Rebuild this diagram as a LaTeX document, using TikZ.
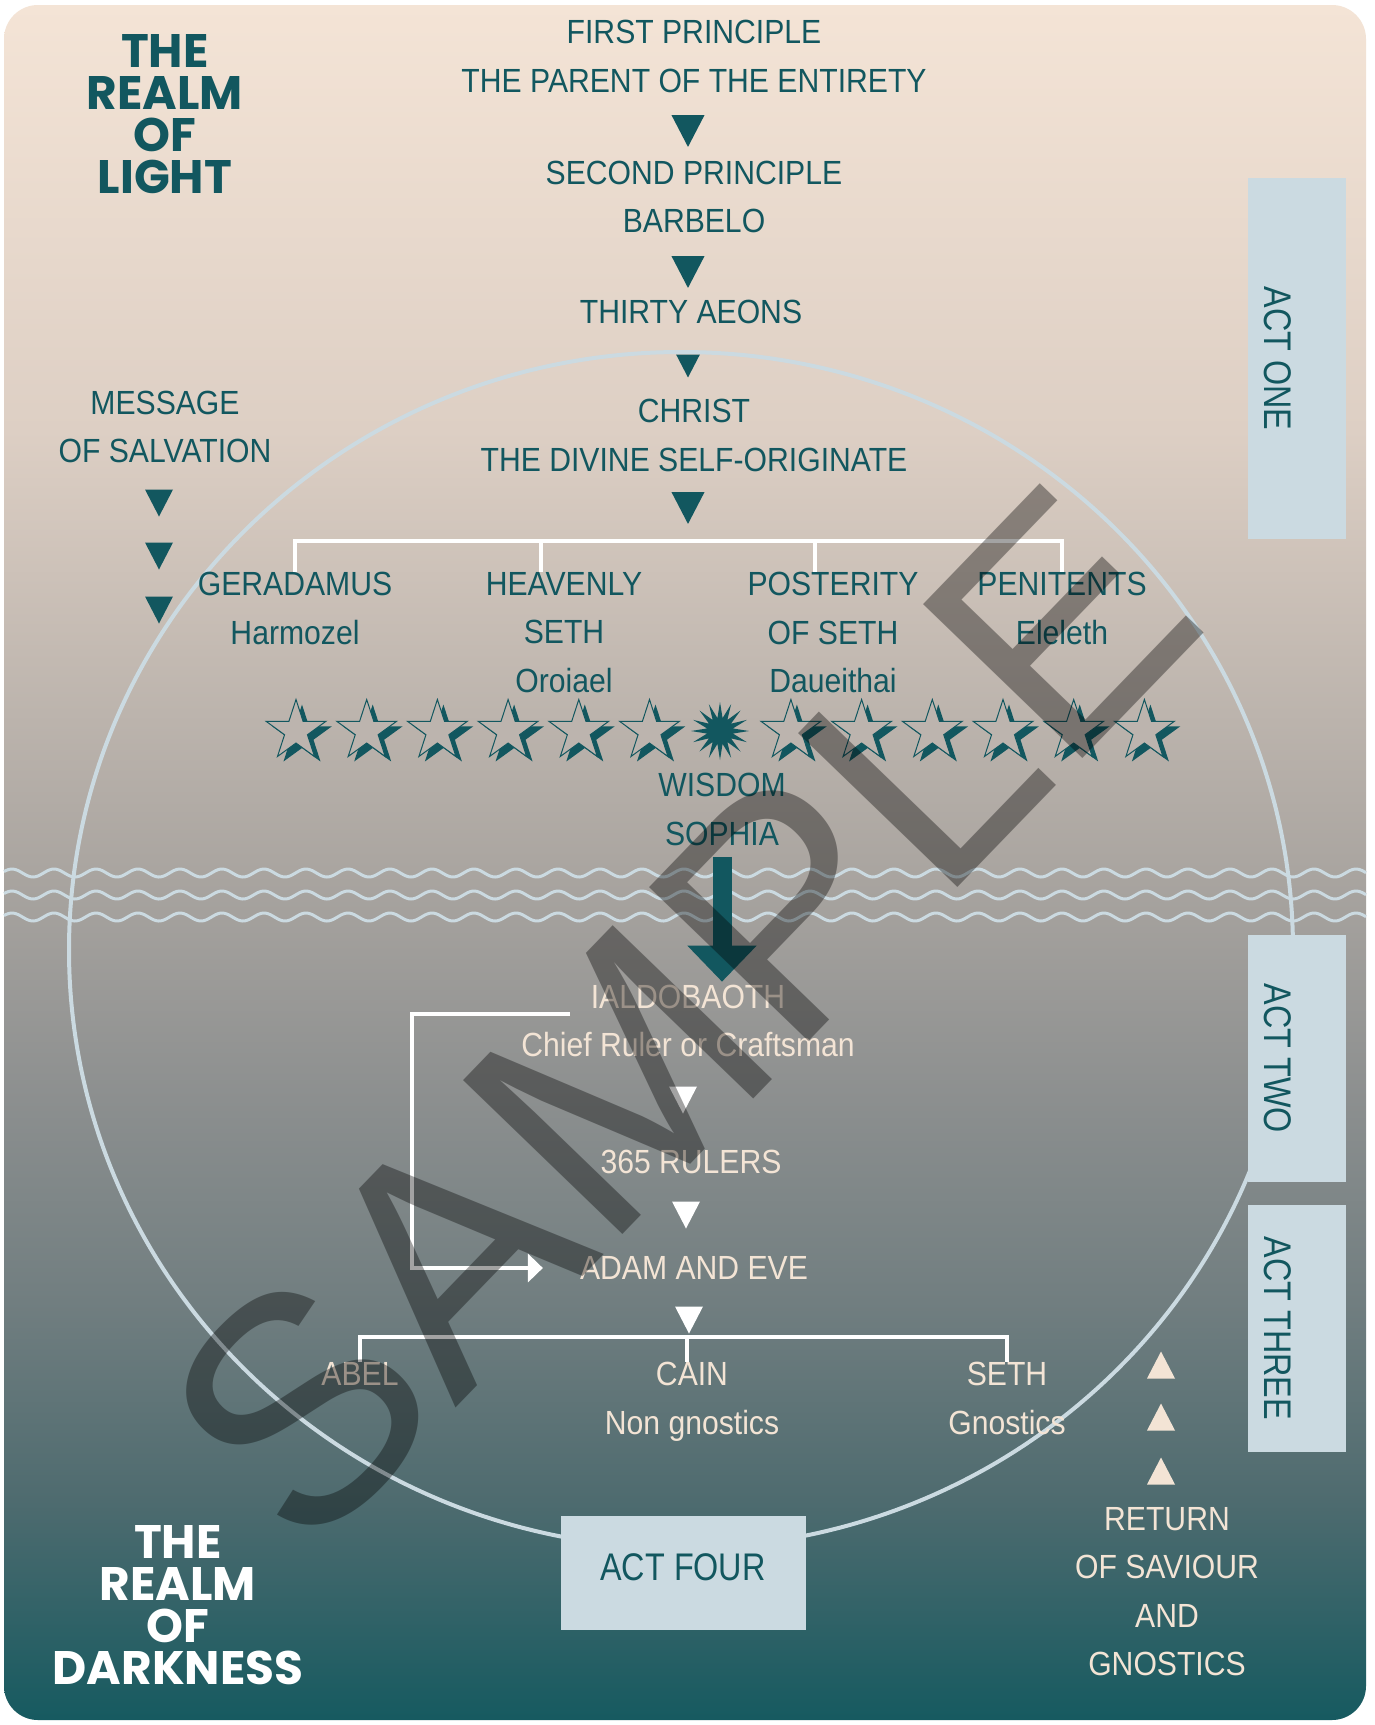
\documentclass[tikz,border=0pt]{standalone}
\usepackage{fontspec}
\setmainfont{Liberation Sans}[FakeStretch=0.9]
\newfontfamily\actfont{Liberation Sans}[FakeStretch=0.84]
\newfontfamily\realmfont{Poppins}
\newfontfamily\markfont{Liberation Sans}
\usetikzlibrary{arrows.meta,calc,shapes.geometric}
\definecolor{Teal}{HTML}{12575F}
\definecolor{Peach}{HTML}{F3E4D5}
\definecolor{Mist}{HTML}{CBDAE1}
\definecolor{StarFill}{HTML}{BCB4AE}
\definecolor{RTop}{HTML}{F4E4D6}
\definecolor{RTwo}{HTML}{DDCFC4}
\definecolor{RMid}{HTML}{ABA6A1}
\definecolor{RFour}{HTML}{8C8F8F}
\definecolor{RFive}{HTML}{717E80}
\definecolor{RSix}{HTML}{4E6B6F}
\definecolor{RBot}{HTML}{165A60}
\pgfdeclareverticalshading{realm}{100bp}{color(0bp)=(RBot); color(25bp)=(RBot);
  color(31.4bp)=(RSix); color(37.2bp)=(RFive); color(43.1bp)=(RFour);
  color(50.1bp)=(RMid); color(62.6bp)=(RTwo); color(75bp)=(RTop); color(100bp)=(RTop)}
\tikzset{
  lbl/.style={font=\fontsize{33.5}{48.5}\selectfont, text=Teal, align=center, inner sep=0pt},
  lowlbl/.style={lbl, text=Peach},
  realmlbl/.style={font=\realmfont\bfseries\fontsize{47}{42}\selectfont, align=center, inner sep=0pt},
  actbox/.style={fill=Mist, inner sep=0pt},
  acttext/.style={font=\actfont\fontsize{38.5}{44}\selectfont, text=Teal, inner sep=0pt},
  branch/.style={draw=white, line width=4.5pt},
  wave/.style={draw=Mist, line width=3pt},
  star5/.style={star, star points=5, star point ratio=2.618, minimum size=63pt, inner sep=0pt},
  burst/.style={star, star points=16, star point ratio=2.2, minimum size=58pt, inner sep=0pt, fill=Teal},
  fall/.pic={\fill (-14,-13.5) -- (14,-13.5) -- (0,13.5) -- cycle;},
  rise/.pic={\fill (-14,13.5) -- (14,13.5) -- (0,-13.5) -- cycle;}
}
\begin{document}
\begin{tikzpicture}[x=1pt,y=-1pt]
  \useasboundingbox (0,0) rectangle (1375,1725);
  \fill[white] (0,0) rectangle (1375,1725);
  \shade[shading=realm, rounded corners=34pt] (4,5) rectangle (1366,1720);

  % waters and the circle
  \foreach \wy in {873,895,917}
    \draw[wave] plot[domain=4:1366, samples=600, smooth] (\x,{\wy-4*cos((\x-54)/42*360)});
  \draw[Mist, line width=4pt] (681,950) ellipse[x radius=612pt, y radius=598pt];

  % acts
  \node[actbox, minimum width=98pt, minimum height=361pt] (actone) at (1297,358.5) {};
  \node[acttext, rotate=-90] (actonelbl) at (1278,358.5) {ACT ONE};
  \node[actbox, minimum width=98pt, minimum height=247pt] (acttwo) at (1297,1058.5) {};
  \node[acttext, rotate=-90] (acttwolbl) at (1278,1058.5) {ACT TWO};
  \node[actbox, minimum width=98pt, minimum height=247pt] (actthree) at (1297,1328.5) {};
  \node[acttext, rotate=-90] (actthreelbl) at (1278,1328.5) {ACT THREE};
  \node[actbox, minimum width=245pt, minimum height=114pt] (actfour) at (683.5,1573) {};
  \node[acttext] (actfourlbl) at (683,1567) {ACT FOUR};

  \node[realmlbl, text=Teal] (light) at (165,114.5) {THE\\REALM\\OF\\LIGHT};
  \node[realmlbl, text=white] (darkness) at (178,1605) {THE\\REALM\\OF\\DARKNESS};

  % realm of light
  \node[lbl] (first) at (694,56.5) {FIRST PRINCIPLE\\THE PARENT OF THE ENTIRETY};
  \node[lbl] (second) at (694,197) {SECOND PRINCIPLE\\BARBELO};
  \node[lbl] (thirty) at (691,312) {THIRTY AEONS};
  \node[lbl] (christ) at (694,435.5) {CHRIST\\THE DIVINE SELF-ORIGINATE};
  \node[lbl] (message) at (165,427) {MESSAGE\\OF SALVATION};
  \node[lbl] (gera) at (295,608.5) {GERADAMUS\\Harmozel};
  \node[lbl] (heav) at (564,632.5) {HEAVENLY\\SETH\\Oroiael};
  \node[lbl] (post) at (833,632.5) {POSTERITY\\OF SETH\\Daueithai};
  \node[lbl] (pen) at (1062,608.5) {PENITENTS\\Eleleth};
  \node[lbl] (wisdom) at (722,809.5) {WISDOM\\SOPHIA};

  \pic[Teal, scale=1.18] at (688,131) {fall};
  \pic[Teal, scale=1.18] at (688,272) {fall};
  \pic[Teal, scale=0.85] at (688,366) {fall};
  \pic[Teal, scale=1.18] at (688,508) {fall};
  \foreach \ty in {503,556,610}
    \pic[Teal] at (159,\ty) {fall};

  \coordinate (fork) at (688,541);
  \draw[branch] (fork) -| (gera.north);
  \draw[branch] (fork) -| ([xshift=-23pt]heav.north);
  \draw[branch] (fork) -| ([xshift=-18pt]post.north);
  \draw[branch] (fork) -| (pen.north);

  % thirteen stars
  \foreach \i in {0,...,5,7,8,...,12}{
    \pgfmathsetmacro\sx{296+70.7*\i}
    \node[star5, fill=Teal] (shade\i) at (\sx+6,736) {};
    \node[star5, fill=StarFill, draw=Teal, line width=1pt] (star\i) at (\sx,731) {};
  }
  \node[burst] (sophiastar) at (720,731) {};

  % realm of darkness
  \node[lowlbl] (ialdo) at (688,1021) {IALDOBAOTH\\Chief Ruler or Craftsman};
  \node[lowlbl] (rulers) at (691,1162) {365 RULERS};
  \node[lowlbl] (adam) at (694,1268) {ADAM AND EVE};
  \node[lowlbl] (abel) at (360,1374) {ABEL};
  \node[lowlbl] (cain) at (692,1402) {CAIN\\Non gnostics};
  \node[lowlbl] (seth) at (1007,1398.5) {SETH\\Gnostics};
  \node[lowlbl] (return) at (1167,1591.5) {RETURN\\OF SAVIOUR\\AND\\GNOSTICS};

  \draw[Teal, line width=19pt, -{Triangle[length=36pt, width=67pt]}]
    ($(wisdom.south)+(0,11)$) -- ($(wisdom.south |- ialdo.north)+(0,-3)$);

  \pic[white] at (683,1100) {fall};
  \pic[white] at (686,1215) {fall};
  \pic[white] at (689,1320) {fall};
  \foreach \ty in {1365,1417,1471}
    \pic[Peach] at (1161,\ty) {rise};

  \coordinate (ialdojoin) at (570,1014);
  \draw[branch, -{Triangle[length=15pt, width=28pt]}]
    (ialdojoin) -- ++(-158,0) |- ([xshift=-37pt]adam.west);

  \coordinate (fork2) at (688,1337);
  \draw[branch] (fork2) -| (abel.north);
  \draw[branch] (fork2) -| ([xshift=-5pt]cain.north);
  \draw[branch] (fork2) -| (seth.north);

  \node[rotate=46, font=\markfont\fontsize{322}{322}\selectfont, text=black, opacity=0.36]
    (sample) at (680,1016) {SAMPLE};
\end{tikzpicture}
\end{document}
